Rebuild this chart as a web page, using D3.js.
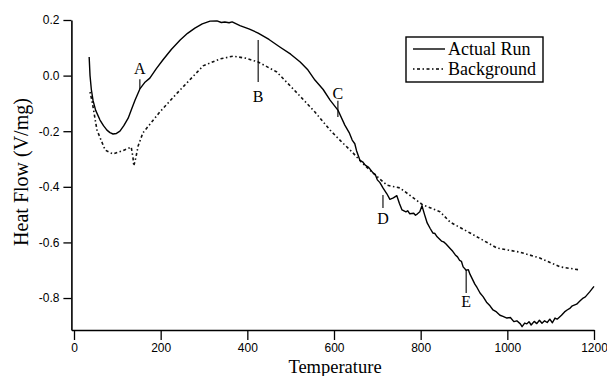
<!DOCTYPE html>
<html>
<head>
<meta charset="utf-8">
<script src="https://cdn.jsdelivr.net/npm/d3@7"></script>
<style>
body { margin: 0; background: #fff; }
</style>
</head>
<body>
<script>
// values
var actualTemp = [35, 37, 40, 44, 50, 60, 68, 76, 83, 90,
        98, 106, 115, 125, 133, 141, 152, 163, 175, 190,
        205, 225, 245, 262, 279, 296, 314, 330, 340, 348,
        358, 365, 383, 405, 425, 450, 475, 500, 522, 540,
        556, 575, 591, 609, 625, 635, 642, 648, 652, 660,
        666, 672, 680, 690, 695, 700, 706, 713, 722, 729,
        737, 745, 751, 757, 766, 770, 775, 784, 788, 792,
        798, 803, 809, 815, 822, 828, 833, 838, 848, 853,
        858, 868, 874, 880, 885, 890, 894, 898, 905, 910,
        914, 925, 930, 937, 944, 952, 960, 967, 975, 983,
        990, 999, 1007, 1015, 1022, 1030, 1034, 1040, 1045, 1050,
        1055, 1062, 1068, 1074, 1080, 1086, 1092, 1098, 1104, 1110,
        1115, 1125, 1132, 1138, 1145, 1150, 1160, 1168, 1175, 1180,
        1190, 1200];
var actualFlow = [0.067, 0.00, -0.05, -0.09, -0.125, -0.16, -0.18, -0.196, -0.205, -0.21,
        -0.208, -0.2, -0.18, -0.153, -0.12, -0.088, -0.048, -0.025, -0.009, 0.025,
        0.056, 0.095, 0.128, 0.152, 0.171, 0.186, 0.196, 0.197, 0.191, 0.193,
        0.19, 0.193, 0.18, 0.167, 0.153, 0.13, 0.103, 0.077, 0.049, 0.02,
        -0.016, -0.05, -0.088, -0.124, -0.178, -0.205, -0.232, -0.245, -0.27, -0.305,
        -0.31, -0.322, -0.33, -0.35, -0.355, -0.375, -0.385, -0.404, -0.425, -0.445,
        -0.44, -0.432, -0.46, -0.483, -0.49, -0.486, -0.497, -0.495, -0.502, -0.498,
        -0.49, -0.468, -0.5, -0.53, -0.55, -0.566, -0.568, -0.58, -0.595, -0.598,
        -0.605, -0.622, -0.632, -0.645, -0.652, -0.665, -0.668, -0.688, -0.70, -0.698,
        -0.715, -0.75, -0.762, -0.782, -0.795, -0.815, -0.828, -0.843, -0.85, -0.862,
        -0.866, -0.872, -0.87, -0.885, -0.882, -0.893, -0.903, -0.89, -0.893, -0.885,
        -0.897, -0.884, -0.892, -0.88, -0.891, -0.882, -0.888, -0.876, -0.889, -0.872,
        -0.876, -0.862, -0.85, -0.843, -0.836, -0.828, -0.822, -0.81, -0.8, -0.796,
        -0.778, -0.758];

var bgTemp = [37, 42, 53, 72, 90, 111, 132, 136, 138, 143, 148, 159, 198, 238, 298, 337, 367, 395, 425, 468,
        515, 556, 591, 618, 642, 665, 690, 722, 752, 805, 845, 868, 914, 976, 1029, 1075, 1122, 1168];
var bgFlow = [-0.059, -0.095, -0.196, -0.268, -0.282, -0.271, -0.257, -0.293, -0.325, -0.293, -0.253, -0.206, -0.131, -0.063, 0.035, 0.06, 0.07, 0.063, 0.049, 0.013,
        -0.063, -0.131, -0.196, -0.239, -0.275, -0.314, -0.35, -0.394, -0.404, -0.465, -0.49, -0.527, -0.566, -0.62, -0.635, -0.656, -0.688, -0.699];

var xTicks = [0, 200, 400, 600, 800, 1000, 1200];
var yTicks = [0.2, 0.0, -0.2, -0.4, -0.6, -0.8];

var markLabels = ["A", "B", "C", "D", "E"];
var markTemp = [152, 425, 609, 713, 905];
var markFrom = [-0.013, 0.128, -0.09, -0.429, -0.699];
var markTo = [-0.048, -0.023, -0.149, -0.476, -0.782];
var markText = [0.006, -0.095, -0.084, -0.534, -0.832];

var seriesNames = ["Actual Run", "Background"];

var width = 607, height = 376;

var svg = d3.select("body").append("svg").attr("width", width).attr("height", height);

var x = d3.scaleLinear().domain([-6, 1200]).range([71.4, 594]);
var y = d3.scaleLinear().domain([-0.915, 0.2]).range([330, 20]);

var line = d3.line().x(function(d){ return x(d[0]); }).y(function(d){ return y(d[1]); });

var actual = d3.zip(actualTemp, actualFlow);
var background = d3.zip(bgTemp, bgFlow);

svg.append("g")
        .attr("transform", "translate(0,330)")
        .call(d3.axisBottom(x).tickValues(xTicks).tickSize(10).tickSizeOuter(0).tickFormat(d3.format("d")))
        .call(function(g){
                g.select(".domain").attr("stroke-width", 1.6);
                g.selectAll(".tick line").attr("stroke-width", 1.3);
                g.selectAll("text").attr("font-family", "Liberation Sans").attr("font-size", 12).attr("fill", "#000").attr("dy", "0.75em");
        });

svg.append("g")
        .attr("transform", "translate(71.4,0)")
        .call(d3.axisLeft(y).tickValues(yTicks).tickSize(8).tickSizeOuter(0).tickFormat(function(d){ return d.toFixed(1); }))
        .call(function(g){
                g.select(".domain").attr("stroke-width", 1.6);
                g.selectAll(".tick line").attr("stroke-width", 1.3);
                g.selectAll("text").attr("font-family", "Liberation Sans").attr("font-size", 12).attr("fill", "#000").attr("x", -12);
        });

svg.append("path")
        .datum(background)
        .attr("fill", "none")
        .attr("stroke", "#111")
        .attr("stroke-width", 1.6)
        .attr("stroke-dasharray", "1.5,2.5,3,2.5")
        .attr("d", line);

svg.append("path")
        .datum(actual)
        .attr("fill", "none")
        .attr("stroke", "#000")
        .attr("stroke-width", 1.4)
        .attr("stroke-linejoin", "round")
        .attr("d", line);

// letter marks
var marks = markLabels.map(function(l, i){ return {label: l, t: markTemp[i], a: markFrom[i], b: markTo[i], v: markText[i]}; });

svg.selectAll("line.mark")
        .data(marks)
        .enter().append("line")
                .attr("class", "mark")
                .attr("stroke", "#000")
                .attr("stroke-width", 1.1)
                .attr("x1", function(d){ return x(d.t); })
                .attr("x2", function(d){ return x(d.t); })
                .attr("y1", function(d){ return y(d.a); })
                .attr("y2", function(d){ return y(d.b); });

svg.selectAll("text.mark")
        .data(marks)
        .enter().append("text")
                .attr("class", "mark")
                .attr("x", function(d){ return x(d.t); })
                .attr("y", function(d){ return y(d.v); })
                .attr("text-anchor", "middle")
                .attr("font-family", "Liberation Serif")
                .attr("font-size", 16)
                .text(function(d){ return d.label; });

// legend
var legend = svg.append("g").attr("transform", "translate(406,37)");
legend.append("rect")
        .attr("width", 137).attr("height", 45)
        .attr("fill", "#fff").attr("stroke", "#000").attr("stroke-width", 1.4);
legend.selectAll("line.key")
        .data(seriesNames)
        .enter().append("line")
                .attr("class", "key")
                .attr("x1", 7).attr("x2", 39)
                .attr("y1", function(d, i){ return 12 + i * 20; })
                .attr("y2", function(d, i){ return 12 + i * 20; })
                .attr("stroke", "#000")
                .attr("stroke-width", 1.4)
                .attr("stroke-dasharray", function(d, i){ return i ? "1.5,2.5,3,2.5" : null; });
legend.selectAll("text")
        .data(seriesNames)
        .enter().append("text")
                .attr("x", 42)
                .attr("y", function(d, i){ return 18 + i * 20; })
                .attr("font-family", "Liberation Serif")
                .attr("font-size", 18)
                .text(function(d){ return d; });

// axis titles
svg.append("text")
        .attr("x", 335).attr("y", 373)
        .attr("text-anchor", "middle")
        .attr("font-family", "Liberation Serif")
        .attr("font-size", 18.5)
        .text("Temperature");

svg.append("text")
        .attr("transform", "translate(28,172) rotate(-90)")
        .attr("text-anchor", "middle")
        .attr("font-family", "Liberation Serif")
        .attr("font-size", 20)
        .text("Heat Flow (V/mg)");
</script>
</body>
</html>
